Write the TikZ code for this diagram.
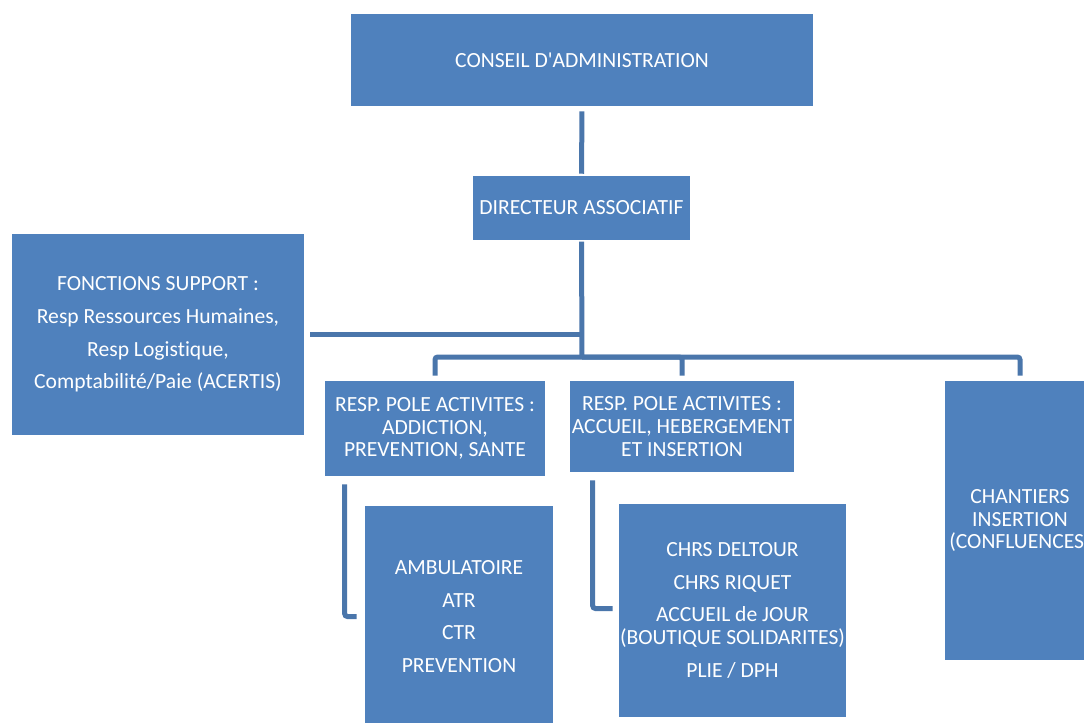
\documentclass[tikz,border=0pt]{standalone}
\usepackage{fontspec}
\setmainfont{Carlito}[Ligatures={TeXOff,CommonOff}]
\definecolor{boxblue}{HTML}{4F81BD}
\definecolor{lineblue}{HTML}{4A76AB}
\tikzset{
  orgbox/.style={fill=boxblue, draw=none, text=white, align=center, inner sep=0pt,
    font=\fontsize{16.2}{17}\selectfont},
  link/.style={draw=lineblue, line width=3.75pt},
}
\newcommand{\pg}{\\[7.4pt]}
\begin{document}
\begin{tikzpicture}[x=0.75pt,y=-0.75pt]
\clip (0,0) rectangle (1084,722);
\fill[white] (0,0) rectangle (1084,722);
\node[orgbox, minimum width=346.5pt, minimum height=69pt] (ca) at (582,60) {CONSEIL D'ADMINISTRATION};
\node[orgbox, minimum width=162.75pt, minimum height=48pt] (dir) at (581.5,208) {DIRECTEUR ASSOCIATIF};
\node[orgbox, minimum width=219pt, minimum height=150.75pt] (fs) at (158,334.5) {FONCTIONS SUPPORT :\pg Resp Ressources Humaines,\pg Resp Logistique,\pg Comptabilité/Paie (ACERTIS)};
\node[orgbox, minimum width=165pt, minimum height=71.25pt] (r1) at (435,428.5) {RESP. POLE ACTIVITES :\\ADDICTION,\\PREVENTION, SANTE};
\node[orgbox, minimum width=168pt, minimum height=68.25pt] (r2) at (682,426.5) {RESP. POLE ACTIVITES :\\ACCUEIL, HEBERGEMENT\\ET INSERTION};
\node[orgbox, minimum width=112.5pt, minimum height=209.25pt] (ch) at (1020,520.5) {CHANTIERS\\INSERTION\\(CONFLUENCES)};
\node[orgbox, minimum width=141pt, minimum height=165.75pt] (amb) at (459,616.5) {AMBULATOIRE\pg ATR\pg CTR\pg PREVENTION};
\node[orgbox, minimum width=170.25pt, minimum height=159.75pt] (chrs) at (732.5,610.5) {CHRS DELTOUR\pg CHRS RIQUET\pg ACCUEIL de JOUR\\(BOUTIQUE SOLIDARITES)\pg PLIE / DPH};
\coordinate (hub) at (582,357);
\coordinate (fsj) at (582,334);
\coordinate (fse) at (310,334);
\draw[link, shorten <=3.75pt, shorten >=1.5pt] (ca.south) -- (dir.north);
\draw[link, shorten <=1pt] (dir.south) -- (hub);
\draw[link] (fsj) -- (fse);
\draw[link, shorten >=3.75pt, rounded corners=2pt] (hub) -| (r1);
\draw[link, shorten >=3.75pt, rounded corners=2pt] (hub) -| (r2);
\draw[link, shorten >=3.75pt, rounded corners=2pt] (hub) -| (ch);
\draw[link, shorten >=6pt, rounded corners=2pt] ([xshift=15pt,yshift=-6pt]r1.south west) |- (amb.west);
\draw[link, shorten >=4.5pt, rounded corners=2pt] ([xshift=17.25pt,yshift=-6pt]r2.south west) |- ([yshift=1.5pt]chrs.west);
\end{tikzpicture}
\end{document}
